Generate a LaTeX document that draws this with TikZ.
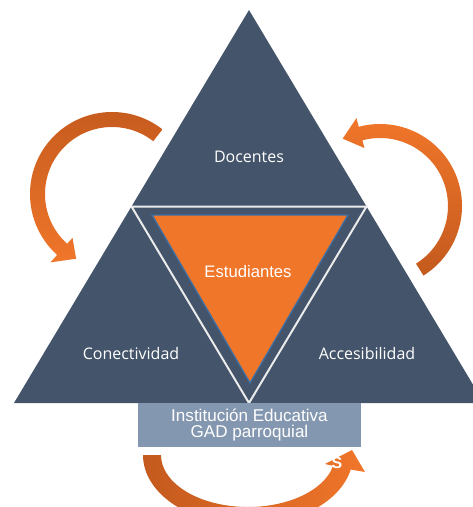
\documentclass[tikz,border=0pt]{standalone}
\usepackage{fontspec}
\newfontfamily\cornerfont{Open Sans}
\newfontfamily\arialfont{Liberation Sans}
\usetikzlibrary{calc}
\definecolor{slate}{HTML}{44546A}
\definecolor{flame}{HTML}{F0762A}
\definecolor{rust}{HTML}{C45A1E}
\definecolor{steel}{HTML}{8497B0}
\definecolor{edgeblue}{HTML}{3A6EA5}
\begin{document}
\begin{tikzpicture}[x=0.75pt,y=-0.75pt,
		cornerlabel/.style={text=white,font=\cornerfont\fontsize{12}{14}\selectfont},
		midlabel/.style={text=white,font=\arialfont\fontsize{12.5}{14}\selectfont},
		infobox/.style={fill=steel,text=white,align=center,inner sep=0pt,
			minimum width=167pt,minimum height=33pt,font=\arialfont\fontsize{12.8}{11.4}\selectfont}]
		\useasboundingbox (0,0) rectangle (473,507);
		\clip (0,0) rectangle (473,507);

		\coordinate (lc) at (112,194);
		\coordinate (rc) at (380,206);
		\coordinate (bc) at (248,455);

		\shade[top color=rust,bottom color=flame] ($(lc)+(-52:82)$) arc (-52:-228:82) -- ($(lc)+(-228:92)$) -- ($(lc)+(-241:74)$) -- ($(lc)+(-228:59)$) -- ($(lc)+(-228:67)$) arc (-228:-52:67) -- cycle;
		\shade[top color=flame,bottom color=rust] ($(rc)+(58:82)$) arc (58:-105:82) -- ($(rc)+(-105:91)$) -- ($(rc)+(-119:77)$) -- ($(rc)+(-105:60)$) -- ($(rc)+(-105:68)$) arc (-105:58:68) -- cycle;
		\shade[left color=rust,right color=flame] ($(bc)+(-105,0)$) arc[start angle=180,end angle=12,x radius=105,y radius=70] -- (365,472) -- (352,450) -- (325,464) -- ($(bc)+({87*cos(12)},{52*sin(12)})$) arc[start angle=12,end angle=180,x radius=87,y radius=52] -- cycle;

		\fill[slate] (249,10) -- (484,403) -- (14,403) -- cycle;
		\draw[white!92!black,line width=1.5pt] (131.5,206.5) -- (366.5,206.5) -- (249,403) -- cycle;
		\filldraw[fill=flame,draw=edgeblue,line width=1pt] (152,215) -- (348,215) -- (250,383) -- cycle;

		\node[cornerlabel] (docentes) at (249,157) {Docentes};
		\node[cornerlabel] (conectividad) at (131,353) {Conectividad};
		\node[cornerlabel] (accesibilidad) at (367,353) {Accesibilidad};
		\node[midlabel] (estudiantes) at (248,272) {Estudiantes};
		\node[infobox] (institucion) at (249.5,425) {Institución Educativa\\GAD parroquial};
		\node[text=white,font=\arialfont\bfseries\fontsize{12}{14}\selectfont] (tag) at (337,463) {S};
	\end{tikzpicture}
\end{document}
